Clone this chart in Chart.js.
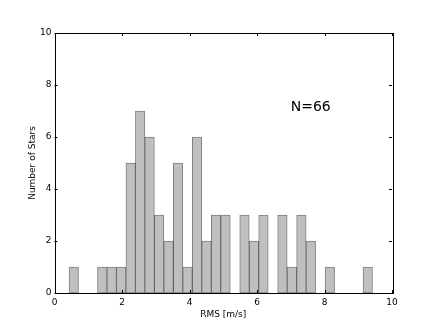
<!DOCTYPE html>
<html>
<head>
<meta charset="utf-8">
<script src="https://cdn.jsdelivr.net/npm/chart.js@4"></script>
<style>
  html, body { margin: 0; padding: 0; background: #fff; }
  #wrap { width: 436px; height: 327px; }
</style>
</head>
<body>
<div id="wrap"><canvas id="histChart"></canvas></div>
<script>
// histogram bin centres (RMS, m/s) and star counts per bin
const binCenters = [0.571, 0.852, 1.133, 1.414, 1.695, 1.976, 2.257, 2.538, 2.819, 3.100,
                    3.381, 3.662, 3.943, 4.224, 4.505, 4.786, 5.067, 5.348, 5.629, 5.910,
                    6.191, 6.472, 6.753, 7.034, 7.315, 7.596, 7.877, 8.158, 8.439, 8.720,
                    9.001, 9.282];
const starCounts = [1, 0, 0, 1, 1, 1, 5, 7, 6, 3,
                    2, 5, 1, 6, 2, 3, 3, 0, 3, 2,
                    3, 0, 3, 1, 3, 2, 0, 1, 0, 0,
                    0, 1];
const xTicks = [0, 2, 4, 6, 8, 10];
const yTicks = [0, 2, 4, 6, 8, 10];
const noteText = 'N=66';
const notePos = { x: 7, y: 7 };

const fontFamily = '"DejaVu Sans", sans-serif';

// frame, inward ticks on all four sides and the N label
const framePlugin = {
    id: 'frame',
    afterDatasetsDraw(chart) {
        const { ctx, chartArea: a, scales: { x, y } } = chart;
        ctx.save();
        ctx.strokeStyle = '#000';
        ctx.lineWidth = 1;
        ctx.beginPath();
        xTicks.forEach(v => {
            const px = Math.round(x.getPixelForValue(v)) + 0.5;
            ctx.moveTo(px, a.bottom); ctx.lineTo(px, a.bottom - 3);
            ctx.moveTo(px, a.top); ctx.lineTo(px, a.top + 3);
        });
        yTicks.forEach(v => {
            const py = Math.round(y.getPixelForValue(v)) + 0.5;
            ctx.moveTo(a.left, py); ctx.lineTo(a.left + 3, py);
            ctx.moveTo(a.right, py); ctx.lineTo(a.right - 3, py);
        });
        ctx.stroke();
        ctx.strokeRect(Math.round(a.left) + 0.5, Math.round(a.top) + 0.5,
                       Math.round(a.right - a.left), Math.round(a.bottom - a.top));

        ctx.fillStyle = '#000';
        ctx.font = '14px ' + fontFamily;
        ctx.textAlign = 'left';
        ctx.textBaseline = 'alphabetic';
        ctx.fillText(noteText, x.getPixelForValue(notePos.x), y.getPixelForValue(notePos.y));
        ctx.restore();
    }
};

const ctx = document.getElementById('histChart').getContext('2d');
new Chart(ctx, {
    type: 'bar',
    data: {
        datasets: [{
            label: 'Number of Stars',
            data: binCenters.map((c, i) => ({ x: c, y: starCounts[i] })),
            backgroundColor: 'rgb(191, 191, 191)',
            borderColor: 'rgba(0, 0, 0, 0.5)',
            borderWidth: 1,
            borderSkipped: false,
            barPercentage: 1,
            categoryPercentage: 1
        }]
    },
    options: {
        responsive: true,
        maintainAspectRatio: false,
        animation: false,
        layout: { padding: { top: 33, right: 44, left: 0, bottom: 0 } },
        plugins: {
            legend: { display: false },
            tooltip: { enabled: false }
        },
        scales: {
            x: {
                type: 'linear',
                min: 0,
                max: 10,
                offset: false,
                afterFit: s => { s.height = 34; },
                afterBuildTicks: s => { s.ticks = xTicks.map(v => ({ value: v })); },
                grid: { display: false, drawTicks: false, offset: false },
                border: { display: false },
                ticks: { color: '#000', padding: 4, font: { family: fontFamily, size: 9 } },
                title: {
                    display: true,
                    text: 'RMS [m/s]',
                    color: '#000',
                    padding: { top: 0, bottom: 7 },
                    font: { family: fontFamily, size: 9 }
                }
            },
            y: {
                min: 0,
                max: 10,
                afterFit: s => { s.width = 54.5; },
                afterBuildTicks: s => { s.ticks = yTicks.map(v => ({ value: v })); },
                grid: { display: false, drawTicks: false },
                border: { display: false },
                ticks: { color: '#000', padding: 3, font: { family: fontFamily, size: 9 } },
                title: {
                    display: true,
                    text: 'Number of Stars',
                    color: '#000',
                    padding: { top: 27, bottom: 0 },
                    font: { family: fontFamily, size: 9 }
                }
            }
        }
    },
    plugins: [framePlugin]
});
</script>
</body>
</html>
